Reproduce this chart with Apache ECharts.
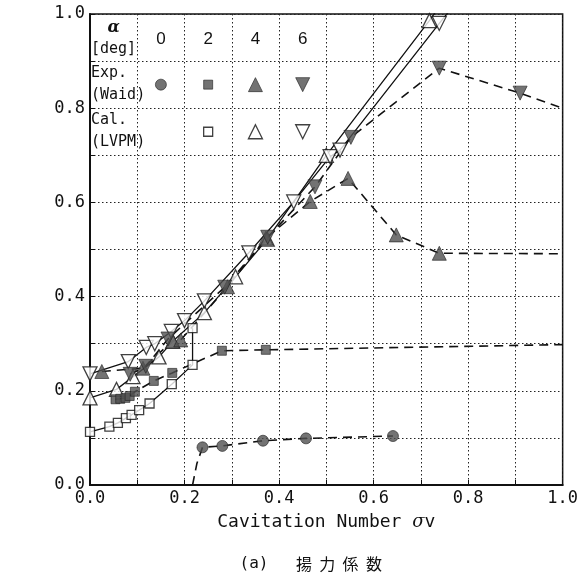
<!DOCTYPE html>
<html><head><meta charset="utf-8">
<script src="https://cdn.jsdelivr.net/npm/echarts@6/dist/echarts.min.js"></script>
<style>html,body{margin:0;padding:0;background:#fff}#c{width:581px;height:577px}</style>
</head><body><div id="c"></div>
<script>
// ---- Experiments (Waid): filled markers joined by dashed curves ----
const exp0 = [[0.238,0.080],[0.280,0.083],[0.366,0.094],[0.457,0.099],[0.641,0.104]];
const exp0Lead = [[0.217,0.000],[0.226,0.045]];
const exp2 = [[0.054,0.182],[0.064,0.183],[0.075,0.185],[0.084,0.189],[0.095,0.198],[0.135,0.221],[0.174,0.238],[0.279,0.285],[0.372,0.287]];
const exp2Tail = [[1.0,0.298]];
const exp4 = [[0.025,0.241],[0.112,0.248],[0.175,0.306],[0.192,0.308],[0.291,0.421],[0.372,0.524],[0.466,0.602],[0.546,0.651],[0.648,0.531],[0.739,0.492]];
const exp4Tail = [[1.0,0.491]];
const exp6 = [[0.085,0.235],[0.118,0.252],[0.165,0.310],[0.285,0.420],[0.376,0.526],[0.476,0.633],[0.552,0.738],[0.739,0.885],[0.910,0.832]];
const exp6Tail = [[1.0,0.800]];

// ---- Calculations (LVPM): open markers joined by solid curves ----
const cal2 = [[0.0,0.113],[0.041,0.124],[0.059,0.132],[0.076,0.142],[0.088,0.149],[0.104,0.159],[0.126,0.173],[0.173,0.214],[0.217,0.255],[0.217,0.333]];
const cal4 = [[0.0,0.185],[0.056,0.203],[0.091,0.230],[0.146,0.272],[0.175,0.305],[0.242,0.366],[0.308,0.442],[0.375,0.522],[0.500,0.700],[0.718,0.986]];
const cal4Tail = [[0.735,1.01]];
const cal6 = [[0.0,0.236],[0.081,0.262],[0.119,0.292],[0.137,0.300],[0.172,0.326],[0.200,0.349],[0.242,0.391],[0.336,0.493],[0.431,0.601],[0.508,0.697],[0.529,0.711],[0.739,0.980]];
const cal6Tail = [[0.763,1.01]];

// ---- Key table in the upper-left cells ----
const alphaHeads = ['0','2','4','6'];
const rowHeads = [['Exp.','(Waid)'],['Cal.','(LVPM)']];

const mono = '"DejaVu Sans Mono", monospace';
const ink = '#111';
const solidFill = '#505050';

const M = {
  circle: {symbol:'circle', size:11, rotate:0},
  square: {symbol:'rect', size:9, rotate:0},
  up:     {symbol:'triangle', size:14, rotate:0},
  down:   {symbol:'triangle', size:14, rotate:180}
};

function curve(data, dashed) {
  return {type:'line', data, symbol:'none', silent:true, clip:true, z:2,
    lineStyle:{color:ink, width: dashed ? 1.6 : 1.3, type: dashed ? [9,6] : 'solid'}};
}
function marks(data, m, filled) {
  return {type:'scatter', data, symbol:m.symbol, symbolSize:m.size, symbolRotate:m.rotate, z:3, silent:true,
    itemStyle:{color: filled ? solidFill : '#fff', borderColor: filled ? '#222' : ink, borderWidth: filled ? 0.8 : 1.3}};
}

// key markers sit in the centre of their table cells
const cellX = i => (i + 1.5) * 0.1;
const cellY = r => 0.95 - 0.1 * r;

const series = [
  curve(exp0Lead.concat(exp0), true),
  curve(exp2.concat(exp2Tail), true),
  curve(exp4.concat(exp4Tail), true),
  curve(exp6.concat(exp6Tail), true),
  curve(cal2, false),
  curve(cal4.concat(cal4Tail), false),
  curve(cal6.concat(cal6Tail), false),
  marks(cal2, M.square, false),
  marks(cal4, M.up, false),
  marks(cal6, M.down, false),
  marks(exp0, M.circle, true),
  marks(exp2, M.square, true),
  marks(exp4, M.up, true),
  marks(exp6, M.down, true),
  // key rows
  marks([[cellX(0), cellY(1)]], M.circle, true),
  marks([[cellX(1), cellY(1)]], M.square, true),
  marks([[cellX(2), cellY(1)]], M.up, true),
  marks([[cellX(3), cellY(1)]], M.down, true),
  marks([[cellX(1), cellY(2)]], M.square, false),
  marks([[cellX(2), cellY(2)]], M.up, false),
  marks([[cellX(3), cellY(2)]], M.down, false)
];

const fmt = v => {
  const k = Math.round(v * 10);
  return k % 2 === 0 ? (k / 10).toFixed(1) : '';
};

const axisCommon = {
  type:'value', min:0, max:1, interval:0.1,
  axisLine:{show:true, onZero:false, lineStyle:{color:ink, width:2}},
  axisTick:{show:true, inside:true, length:5, lineStyle:{color:ink, width:1}},
  splitLine:{show:true, lineStyle:{color:'#222', width:1, type:[1.5,2.5]}},
  axisLabel:{color:ink, fontFamily:mono, fontSize:17, margin:5, formatter:fmt, showMinLabel:true, showMaxLabel:true}
};

const chart = echarts.init(document.getElementById('c'));
chart.setOption({
  animation:false,
  backgroundColor:'#fff',
  grid:{left:90, right:15, top:14, bottom:92, show:true, borderColor:ink, borderWidth:1.5, backgroundColor:'transparent'},
  xAxis: Object.assign({}, axisCommon),
  yAxis: Object.assign({}, axisCommon),
  series
});

// text of the key table, axis titles and caption
const px = (x, y) => chart.convertToPixel({gridIndex:0}, [x, y]);
const g = [];
const txt = (x, y, text, style, extra) => g.push(Object.assign({type:'text', x, y, z:10, silent:true,
  style:Object.assign({text, fill:ink, font:'15px ' + mono, textAlign:'left', textVerticalAlign:'middle'}, style)}, extra || {}));

const left = px(0, 0)[0] + 1;
const r0 = px(0, 0.95)[1];
txt(px(0.05, 0)[0], r0 - 10, 'α', {font:'italic bold 16px "DejaVu Serif", serif', textAlign:'center'});
txt(left, r0 + 12, '[deg]');
alphaHeads.forEach((h, i) => txt(px(cellX(i), 0)[0], r0 + 2, h, {font:'17px "Liberation Sans", Arial, sans-serif', textAlign:'center'}));
rowHeads.forEach((lines, r) => {
  const yc = px(0, cellY(r + 1))[1];
  txt(left, yc - 12, lines[0]);
  txt(left, yc + 10, lines[1]);
});

const plotMidX = (px(0, 0)[0] + px(1, 0)[0]) / 2;
const plotMidY = (px(0, 0)[1] + px(0, 1)[1]) / 2;
txt(22, plotMidY, 'Lift Coefficient', {font:'17px ' + mono, textAlign:'center'}, {rotation:Math.PI / 2, originX:22, originY:plotMidY});
g.push({type:'text', x:plotMidX, y:px(0, 0)[1] + 37, z:10, silent:true, style:{
  text:'{a|Cavitation Number }{s|σ}{a|v}', textAlign:'center', textVerticalAlign:'middle',
  rich:{a:{font:'18px ' + mono, fill:ink}, s:{font:'italic 18px "DejaVu Serif", serif', fill:ink}}}});

const capY = 564;
txt(254, capY, '(a)', {font:'16px ' + mono, textAlign:'center'});
['揚','力','係','数'].forEach((ch, i) => txt(304 + i * 23.3, capY, ch, {font:'16px "Noto Sans CJK JP", sans-serif', textAlign:'center'}));

chart.setOption({graphic:g});
</script></body></html>
